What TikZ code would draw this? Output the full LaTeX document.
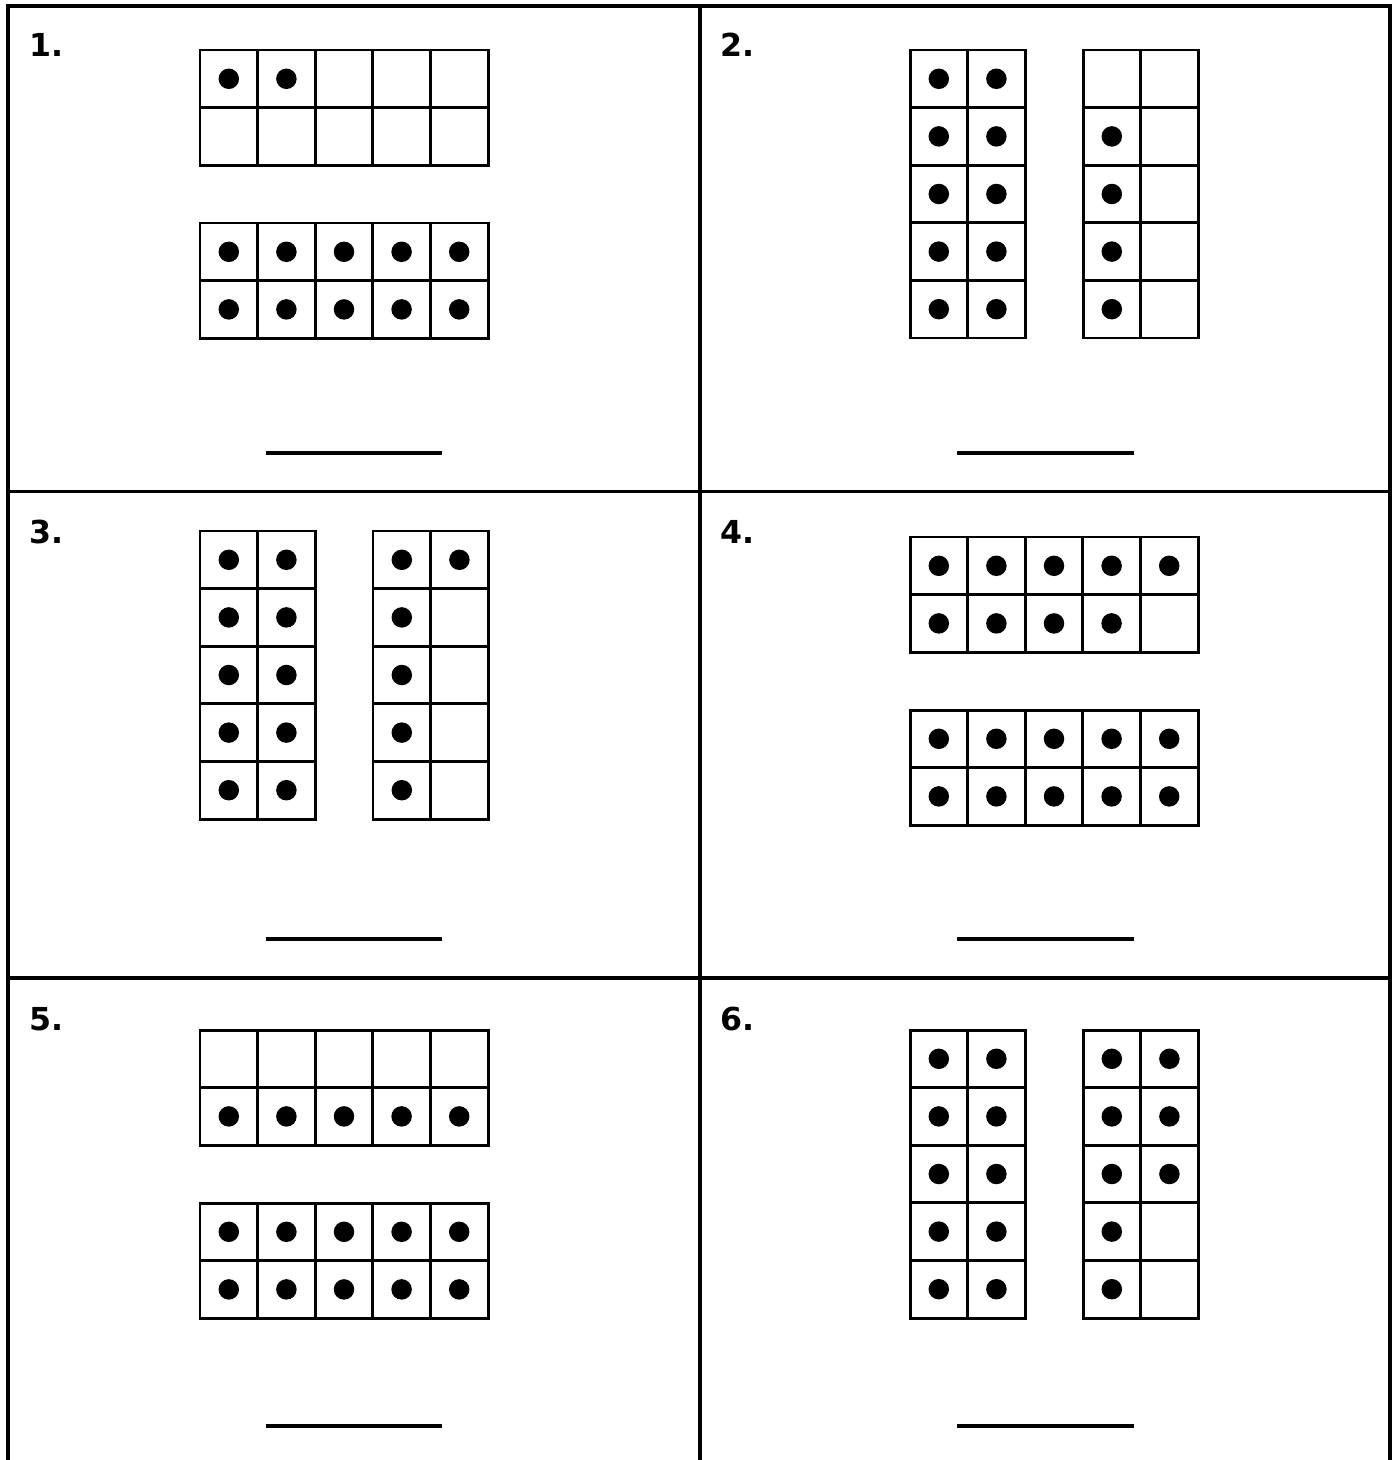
\documentclass[tikz,border=0pt]{standalone}
\usepackage{fontspec}
\setmainfont{DejaVu Sans}
\usetikzlibrary{calc}

% ten frame: x, y (top left), columns, rows, filled cells col/row
\newcommand{\tenframe}[5]{%
    \begin{scope}[shift={(#1,#2)}]
        \foreach \c in {0,...,#3} \draw [cellline] (\c*57.6,0) -- (\c*57.6,#4*57.6);
        \foreach \r in {0,...,#4} \draw [cellline] (0,\r*57.6) -- (#3*57.6,\r*57.6);
        \foreach \c/\r in {#5} \fill [dot] ({(\c-0.5)*57.6},{(\r-0.5)*57.6}) circle (0.205cm);
    \end{scope}}

\begin{document}
\begin{tikzpicture}[
        x=0.02cm, y=-0.02cm,
        cellline/.style={line width=1.7pt, line cap=rect},
        dot/.style={fill=black},
        rule/.style={line width=2pt},
        border/.style={line width=2.1pt},
        numlabel/.style={anchor=base west, inner sep=0pt, font=\fontsize{18}{20}\selectfont\bfseries}
    ]
    \useasboundingbox (0,0) rectangle (1398,1460);

    % Grid of the sheet
    \draw [border] (8,1460) -- (8,6) -- (1390,6) -- (1390,1460);
    \draw [border] (700,6) -- (700,1460);
    \draw [border] (8,491.5) -- (1390,491.5);
    \draw [border] (8,978) -- (1390,978);

    % Numbers
    \node [numlabel] (n1) at (29,57) {1.};
    \node [numlabel] (n2) at (720,57) {2.};
    \node [numlabel] (n3) at (29,543) {3.};
    \node [numlabel] (n4) at (720,543) {4.};
    \node [numlabel] (n5) at (29,1030) {5.};
    \node [numlabel] (n6) at (720,1030) {6.};

    % 1.
    \tenframe{200}{50}{5}{2}{1/1,2/1}
    \tenframe{200}{223}{5}{2}{1/1,2/1,3/1,4/1,5/1,1/2,2/2,3/2,4/2,5/2}

    % 2.
    \tenframe{910}{50}{2}{5}{1/1,2/1,1/2,2/2,1/3,2/3,1/4,2/4,1/5,2/5}
    \tenframe{1083}{50}{2}{5}{1/2,1/3,1/4,1/5}

    % 3.
    \tenframe{200}{531}{2}{5}{1/1,2/1,1/2,2/2,1/3,2/3,1/4,2/4,1/5,2/5}
    \tenframe{373}{531}{2}{5}{1/1,2/1,1/2,1/3,1/4,1/5}

    % 4.
    \tenframe{910}{537}{5}{2}{1/1,2/1,3/1,4/1,5/1,1/2,2/2,3/2,4/2}
    \tenframe{910}{710}{5}{2}{1/1,2/1,3/1,4/1,5/1,1/2,2/2,3/2,4/2,5/2}

    % 5.
    \tenframe{200}{1030}{5}{2}{1/2,2/2,3/2,4/2,5/2}
    \tenframe{200}{1203}{5}{2}{1/1,2/1,3/1,4/1,5/1,1/2,2/2,3/2,4/2,5/2}

    % 6.
    \tenframe{910}{1030}{2}{5}{1/1,2/1,1/2,2/2,1/3,2/3,1/4,2/4,1/5,2/5}
    \tenframe{1083}{1030}{2}{5}{1/1,2/1,1/2,2/2,1/3,2/3,1/4,1/5}

    % Answer lines
    \draw [rule] (266,453) -- (442,453);
    \draw [rule] (957,453) -- (1134,453);
    \draw [rule] (266,939) -- (442,939);
    \draw [rule] (957,939) -- (1134,939);
    \draw [rule] (266,1426) -- (442,1426);
    \draw [rule] (957,1426) -- (1134,1426);

\end{tikzpicture}
\end{document}
